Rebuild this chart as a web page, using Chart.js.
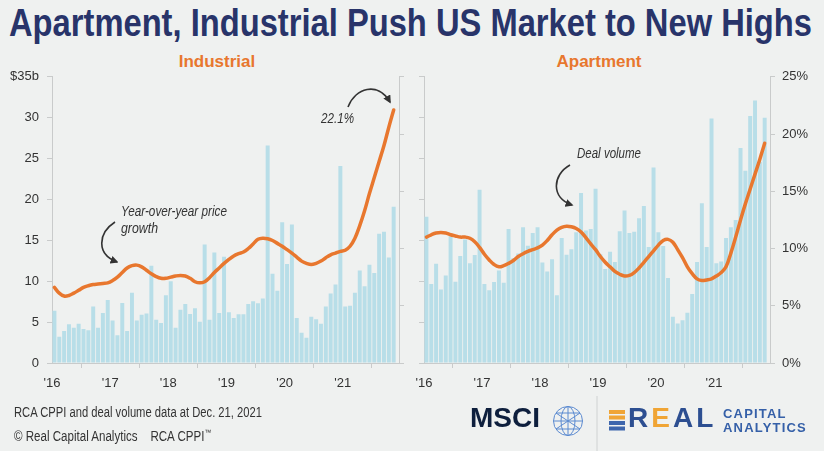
<!DOCTYPE html>
<html><head><meta charset="utf-8">
<script src="https://cdn.jsdelivr.net/npm/chart.js@4.4.1/dist/chart.umd.min.js"></script>
<style>
html,body{margin:0;padding:0;background:#eff1f0;}
#wrap{position:relative;width:824px;height:451px;overflow:hidden;background:#eff1f0;font-family:'Liberation Sans',Arial,sans-serif;}
#title{position:absolute;left:9px;top:1px;font-weight:bold;font-size:38px;color:#28346a;white-space:nowrap;line-height:44px;}
.fit{transform-origin:0 0;}
.sub{position:absolute;top:52px;width:120px;text-align:center;font-weight:bold;font-size:17px;color:#e8772e;line-height:20px;}
canvas{position:absolute;}
.note{position:absolute;font-style:italic;font-size:14px;color:#333;line-height:17px;white-space:nowrap;}
.foot{position:absolute;left:14px;font-size:14px;color:#333;white-space:nowrap;line-height:16px;}
#msci{position:absolute;left:470px;top:402px;font-weight:bold;font-size:28px;color:#0e1f3d;line-height:32px;}
#real{position:absolute;left:628px;top:402px;font-weight:bold;font-size:28px;color:#2d4f91;line-height:32px;letter-spacing:3px;}
.rca{position:absolute;left:723px;font-weight:bold;font-size:13px;color:#3560a8;letter-spacing:1.2px;line-height:14px;}
</style></head>
<body>
<div id="wrap">
  <div id="title" class="fit" data-w="803">Apartment, Industrial Push US Market to New Highs</div>
  <div class="sub" style="left:157px">Industrial</div>
  <div class="sub" style="left:539px">Apartment</div>
  <canvas id="c1" width="412" height="334" style="left:0;top:61px"></canvas>
  <canvas id="c2" width="412" height="334" style="left:412px;top:61px"></canvas>
  <svg width="824" height="451" style="position:absolute;left:0;top:0">
    <defs><marker id="ah" viewBox="0 0 10 10" refX="8" refY="5" markerWidth="5" markerHeight="5" orient="auto"><path d="M0,0 L10,5 L0,10 z" fill="#333"/></marker></defs>
    <path d="M115,222 C98,233 96,254 117,262" stroke="#333" stroke-width="1.6" fill="none" marker-end="url(#ah)"/>
    <path d="M348,107 C355,88 378,81 390,102" stroke="#333" stroke-width="1.6" fill="none" marker-end="url(#ah)"/>
    <path d="M570,165 C552,175 551,198 572,205" stroke="#333" stroke-width="1.6" fill="none" marker-end="url(#ah)"/>
    <line x1="597" y1="396" x2="597" y2="451" stroke="#cfd2d2" stroke-width="1"/>
    <g stroke="#5b8ad0" stroke-width="1" fill="none">
      <circle cx="568" cy="421" r="14.5"/>
      <ellipse cx="568" cy="421" rx="7" ry="14.5"/>
      <line x1="568" y1="406.5" x2="568" y2="435.5"/>
      <line x1="553.5" y1="421" x2="582.5" y2="421"/>
      <line x1="556" y1="413" x2="580" y2="413"/>
      <line x1="556" y1="429" x2="580" y2="429"/>
      <path d="M556,413 L580,429 M580,413 L556,429"/>
    </g>
    <g>
      <rect x="609" y="410" width="16" height="4" fill="#f0a535"/>
      <rect x="609" y="415.5" width="16" height="4" fill="#f0a535"/>
      <rect x="609" y="421" width="16" height="4" fill="#3d66ad"/>
      <rect x="609" y="426.5" width="16" height="4" fill="#3d66ad"/>
    </g>
  </svg>
  <div class="note fit" data-w="106" style="left:121px;top:203px">Year-over-year price</div>
  <div class="note fit" data-w="37" style="left:121px;top:220px">growth</div>
  <div class="note fit" data-w="33" style="left:321px;top:110px">22.1%</div>
  <div class="note fit" data-w="64" style="left:577px;top:145px">Deal volume</div>
  <div class="foot fit" data-w="248" style="top:404px">RCA CPPI and deal volume data at Dec. 21, 2021</div>
  <div class="foot fit" data-w="197" style="top:425px">© Real Capital Analytics&nbsp;&nbsp;&nbsp;&nbsp;RCA CPPI<sup style="font-size:8px">™</sup></div>
  <div id="msci">MSCI</div>
  <div id="real">R<span style="color:#f0a535">E</span>AL</div>
  <div class="rca" style="top:407px">CAPITAL</div>
  <div class="rca" style="top:421px">ANALYTICS</div>
</div>
<script>
const yearLabels = ["'16","'17","'18","'19","'20","'21"];
const yearTickPos = [0,12,24,36,48,60];
const volumeTicks = ['0','5','10','15','20','25','30','$35b'];
const pctTicks = ['0%','5%','10%','15%','20%','25%'];

const industrialVolume = [6.4,3.2,3.9,4.75,4.3,4.8,4.15,4.0,6.9,4.3,6.1,7.7,
 5.2,3.4,7.35,3.9,8.6,5.2,5.9,6.05,11.9,5.3,4.9,8.3,
 10.0,4.3,6.5,7.2,6.0,6.7,5.05,14.5,5.3,13.5,6.1,13.0,
 6.2,5.5,5.95,5.95,7.2,7.55,7.3,7.9,26.6,10.9,8.85,17.2,
 12.1,16.95,5.5,3.7,3.1,5.65,5.35,4.8,6.9,8.5,9.6,24.1,
 6.9,7.0,8.6,11.3,9.4,12.0,11.0,15.8,16.05,12.9,19.1];
const industrialGrowth = [6.6,6.1,5.85,5.9,6.1,6.35,6.6,6.75,6.85,6.9,6.95,7.0,
 7.2,7.5,7.9,8.3,8.5,8.55,8.4,8.1,7.8,7.55,7.4,7.4,
 7.5,7.6,7.65,7.6,7.4,7.1,7.0,7.1,7.45,7.9,8.3,8.7,
 9.05,9.35,9.55,9.7,10.0,10.4,10.8,10.9,10.85,10.7,10.45,10.2,
 9.9,9.6,9.25,8.9,8.7,8.6,8.7,8.9,9.2,9.45,9.6,9.75,
 9.85,10.2,10.9,12.0,13.3,14.8,16.2,17.6,19.0,20.6,22.1];
const apartmentVolume = [17.9,9.67,12.15,9.0,10.7,15.5,9.95,13.1,15.1,12.2,13.2,21.2,
 9.67,8.9,9.9,11.3,9.8,16.4,12.8,13.4,16.6,14.35,15.9,16.6,
 12.3,11.2,12.7,8.3,15.3,13.25,13.9,16.0,20.8,16.2,16.4,21.3,
 13.3,11.5,13.6,12.35,16.1,18.65,15.9,16.05,17.7,19.2,14.2,23.9,
 16.0,14.3,10.4,5.65,4.84,5.24,6.14,8.45,12.35,19.55,14.2,29.9,
 12.2,12.4,15.3,16.6,17.5,26.3,23.5,30.2,32.1,24.6,30.0];
const apartmentGrowth = [11.0,11.2,11.35,11.4,11.35,11.2,11.1,11.0,11.0,10.9,10.6,10.1,
 9.5,9.0,8.6,8.4,8.5,8.7,8.95,9.3,9.55,9.75,9.9,10.05,
 10.3,10.7,11.2,11.6,11.85,11.95,11.9,11.75,11.45,10.95,10.4,9.9,
 9.3,8.8,8.4,8.0,7.75,7.6,7.65,7.9,8.3,8.8,9.3,9.8,
 10.3,10.7,10.8,10.55,9.9,9.2,8.4,7.8,7.35,7.2,7.25,7.35,
 7.6,7.9,8.4,9.6,11.0,12.5,13.9,15.2,16.5,17.8,19.2];

const FONT = "'Liberation Sans',Arial,sans-serif";
const AXIS = '#c9cbcb';
const pts = arr => arr.map((v,i)=>({x:i+0.5,y:v}));

function makeChart(id, vol, growth, leftLabels, rightLabels, leftW, rightW){
  return new Chart(document.getElementById(id), {
    type:'bar',
    data:{datasets:[
      {type:'line', data:pts(growth), yAxisID:'y1', borderColor:'#e8772e', borderWidth:3.5,
       pointRadius:0, tension:0.4, order:0, borderCapStyle:'round', borderJoinStyle:'round'},
      {type:'bar', data:pts(vol), yAxisID:'y', backgroundColor:'#b8dee8',
       barPercentage:0.82, categoryPercentage:1, order:1}
    ]},
    options:{
      responsive:false, animation:false, devicePixelRatio:1,
      layout:{padding:{top:5,left:0,right:0,bottom:0}},
      plugins:{legend:{display:false}, tooltip:{enabled:false}},
      scales:{
        x:{type:'linear', min:0, max:71.6, offset:false,
           afterBuildTicks:s=>{s.ticks=yearTickPos.map(v=>({value:v}));},
           afterFit:s=>{s.height=32; s.paddingLeft=0; s.paddingRight=0;},
           grid:{drawOnChartArea:false, drawTicks:true, tickLength:5, color:AXIS},
           border:{display:true,color:AXIS},
           ticks:{autoSkip:false, maxRotation:0, padding:8, color:'#333', font:{family:FONT,size:13},
                  callback:(v,i)=>yearLabels[i]}},
        y:{position:'left', min:0, max:35,
           afterBuildTicks:s=>{s.ticks=volumeTicks.map((t,i)=>({value:i*5}));},
           afterFit:s=>{s.width=leftW;},
           grid:{drawOnChartArea:false, drawTicks:true, tickLength:5, color:AXIS},
           border:{display:true,color:AXIS},
           ticks:{padding:8, color:'#333', font:{family:FONT,size:13},
                  callback:(v,i)=>leftLabels ? leftLabels[i] : ''}},
        y1:{position:'right', min:0, max:25,
           afterBuildTicks:s=>{s.ticks=pctTicks.map((t,i)=>({value:i*5}));},
           afterFit:s=>{s.width=rightW;},
           grid:{drawOnChartArea:false, drawTicks:true, tickLength:5, color:AXIS},
           border:{display:true,color:AXIS},
           ticks:{padding:7, color:'#333', font:{family:FONT,size:13},
                  callback:(v,i)=>rightLabels ? rightLabels[i] : ''}}
      }
    }
  });
}
makeChart('c1', industrialVolume, industrialGrowth, volumeTicks, null, 52, 13);
makeChart('c2', apartmentVolume, apartmentGrowth, null, pctTicks, 12, 54);

document.querySelectorAll('.fit').forEach(el=>{
  const w = el.getBoundingClientRect().width;
  el.style.transform = 'scaleX(' + (parseFloat(el.dataset.w) / w) + ')';
});
</script>
</body></html>
